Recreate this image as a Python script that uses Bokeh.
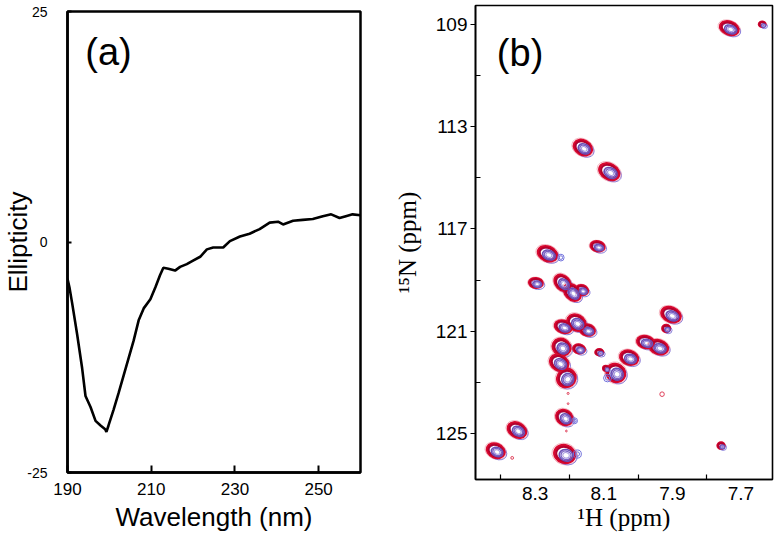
from bokeh.plotting import figure
from bokeh.models import Range1d, FixedTicker, Label
from bokeh.layouts import row, column
from bokeh.embed import file_html
from bokeh.resources import INLINE

# ---------------- Panel (a): CD spectrum ----------------
wavelength = [190.0, 190.5, 191.1, 192.3, 193.5, 194.3, 195.5, 196.7, 197.9, 199.0,
              199.3, 199.8, 201.0, 202.2, 203.4, 204.6, 205.8, 207.0, 208.2, 209.8,
              211.0, 212.1, 212.9, 214.1, 215.7, 216.9, 218.5, 220.1, 221.7, 223.3,
              224.8, 227.2, 228.8, 231.2, 233.5, 235.9, 238.3, 240.3, 241.5, 243.9,
              246.2, 248.6, 251.0, 253.0, 255.0, 256.5, 258.1, 260.0]
ellipticity = [-4.0, -5.0, -6.6, -10.0, -13.7, -16.7, -17.9, -19.4, -19.9, -20.3,
               -20.6, -19.9, -18.2, -16.4, -14.5, -12.6, -10.7, -8.5, -7.2, -6.2,
               -4.9, -3.6, -2.8, -2.9, -3.1, -2.7, -2.4, -2.0, -1.6, -0.8,
               -0.6, -0.6, 0.1, 0.6, 0.9, 1.4, 2.1, 2.2, 1.9, 2.3,
               2.4, 2.5, 2.8, 3.0, 2.6, 2.8, 3.0, 2.9]
cd_xticks = [190, 210, 230, 250]
cd_yticks = [-25, 0, 25]

# ---------------- Panel (b): 1H-15N HSQC peaks ----------------
peak_h = [7.734, 7.638, 8.161, 8.084, 8.118, 8.264, 8.298, 8.220, 8.192, 8.164,
          8.218, 8.180, 8.148, 7.904, 7.918, 7.978, 7.940, 8.223, 8.172, 8.113,
          8.026, 8.230, 8.209, 8.065, 8.094, 8.215, 8.353, 8.415, 8.214, 7.758]
peak_n = [109.15, 109.00, 113.82, 114.76, 117.68, 117.97, 119.11, 119.11, 119.48, 119.39,
          120.82, 120.66, 120.95, 120.35, 120.89, 121.42, 121.62, 121.62, 121.69, 121.82,
          122.03, 122.23, 122.83, 122.63, 122.45, 124.37, 124.86, 125.67, 125.80, 125.47]
peak_wh = [0.048, 0.016, 0.048, 0.053, 0.035, 0.050, 0.034, 0.046, 0.048, 0.031,
           0.043, 0.048, 0.038, 0.050, 0.019, 0.043, 0.048, 0.046, 0.029, 0.019,
           0.046, 0.048, 0.044, 0.048, 0.013, 0.043, 0.048, 0.046, 0.053, 0.017]
peak_wn = [0.43, 0.17, 0.48, 0.51, 0.33, 0.48, 0.32, 0.46, 0.46, 0.32,
           0.40, 0.51, 0.37, 0.48, 0.23, 0.40, 0.46, 0.54, 0.29, 0.20,
           0.46, 0.51, 0.64, 0.59, 0.16, 0.48, 0.48, 0.46, 0.59, 0.20]
peak_tilt = [-0.35, 0.0, -0.5, -0.5, -0.2, -0.4, -0.1, -0.8, -0.8, -0.3,
             -0.3, -0.5, -0.2, -0.4, 0.0, -0.2, -0.3, -0.5, -0.2, 0.0,
             -0.3, -0.5, -0.9, -0.6, 0.0, -0.6, -0.5, -0.4, -0.3, 0.0]

blue_only_h = [8.225, 8.089, 8.185, 8.177]
blue_only_n = [118.12, 122.83, 124.50, 125.80]
blue_only_wh = [0.017, 0.021, 0.015, 0.021]
blue_only_wn = [0.24, 0.27, 0.21, 0.29]

red_only_h = [8.204, 8.204, 8.209, 8.367, 7.930]
red_only_n = [123.43, 123.83, 124.90, 125.95, 123.46]
red_only_wh = [0.006, 0.005, 0.005, 0.008, 0.013]
red_only_wn = [0.08, 0.07, 0.07, 0.11, 0.18]

nmr_xticks = [8.3, 8.1, 7.9, 7.7]
nmr_xminor = [8.4, 8.2, 8.0, 7.8]
nmr_yticks = [109, 113, 117, 121, 125]
nmr_yminor = [111, 115, 119, 123]

SANS = "Liberation Sans"
SERIF = "Liberation Serif"

# ---------- figure (a) ----------
pa = figure(width=390, height=543, x_range=Range1d(190, 260), y_range=Range1d(-25, 25),
            output_backend="svg", toolbar_location=None,
            min_border_left=67, min_border_right=30, min_border_top=11, min_border_bottom=71)
pa.line(wavelength, ellipticity, line_color="black", line_width=2.6)
pa.xgrid.visible = False
pa.ygrid.visible = False
pa.outline_line_color = "black"
pa.outline_line_width = 2.5
pa.outline_line_alpha = 1.0

pa.xaxis.ticker = FixedTicker(ticks=cd_xticks)
pa.yaxis.ticker = FixedTicker(ticks=cd_yticks)
pa.xaxis.major_label_overrides = {t: str(t) for t in cd_xticks}
pa.yaxis.major_label_overrides = {t: str(t) for t in cd_yticks}
for ax in (pa.xaxis[0], pa.yaxis[0]):
    ax.axis_line_color = "black"
    ax.axis_line_width = 2.5
    ax.major_tick_line_color = "black"
    ax.major_tick_line_width = 2
    ax.major_tick_out = 0
    ax.minor_tick_line_color = None
    ax.major_label_text_font = SANS
    ax.major_label_text_color = "black"
    ax.axis_label_text_font = SANS
    ax.axis_label_text_font_style = "normal"
    ax.axis_label_text_color = "black"
    ax.axis_label_text_font_size = "26px"
pa.xaxis.major_tick_in = 7
pa.yaxis.major_tick_in = 4
pa.xaxis.major_label_text_font_size = "17px"
pa.yaxis.major_label_text_font_size = "14px"
pa.xaxis.major_label_standoff = 10
pa.yaxis.major_label_standoff = 20
pa.xaxis.axis_label = "Wavelength (nm)"
pa.yaxis.axis_label = "Ellipticity"
pa.xaxis.axis_label_standoff = 4
pa.yaxis.axis_label_standoff = -9
pa.add_layout(Label(x=199.8, y=20.6, text="(a)", text_font=SANS, text_font_size="38px",
                    text_align="center", text_baseline="middle", text_color="black"))

# ---------- figure (b) ----------
pb = figure(width=385, height=543, x_range=Range1d(8.474, 7.608), y_range=Range1d(126.795, 108.265),
            output_backend="svg", toolbar_location=None,
            min_border_left=82, min_border_right=3, min_border_top=5, min_border_bottom=64)
pb.xgrid.visible = False
pb.ygrid.visible = False
pb.outline_line_color = "black"
pb.outline_line_width = 1.6

def scaled(vals, s):
    return [v * s for v in vals]

def shifted(vals, d):
    return [v + d for v in vals]

# contour levels: (scale, colour, line width, dH, dN)
levels = [
    (1.42, "#f5b5c0", 1.0, 0.0, 0.0),
    (1.18, "#8c82dc", 1.0, -0.006, 0.07),
    (1.15, "#d8082f", 2.6, 0.0, 0.0),
    (0.95, "#b5002c", 2.0, 0.0, 0.0),
    (0.76, "#6b4fb5", 1.6, -0.004, 0.05),
    (0.56, "#7a62c4", 1.4, -0.004, 0.05),
    (0.36, "#a99be0", 1.1, -0.004, 0.05),
]
for s, col, lw, dh, dn in levels:
    pb.ellipse(x=shifted(peak_h, dh), y=shifted(peak_n, dn),
               width=scaled(peak_wh, s), height=scaled(peak_wn, s), angle=peak_tilt,
               fill_color=None, line_color=col, line_width=lw)

for s, lw in ((1.1, 1.0), (0.6, 1.0)):
    pb.ellipse(x=blue_only_h, y=blue_only_n, width=scaled(blue_only_wh, s),
               height=scaled(blue_only_wn, s), angle=0.0,
               fill_color=None, line_color="#7272dc", line_width=lw)

pb.ellipse(x=red_only_h, y=red_only_n, width=red_only_wh, height=red_only_wn, angle=0.0,
           fill_color=None, line_color="#e0405a", line_width=1.0)

pb.xaxis.ticker = FixedTicker(ticks=nmr_xticks, minor_ticks=nmr_xminor)
pb.yaxis.ticker = FixedTicker(ticks=nmr_yticks, minor_ticks=nmr_yminor)
pb.xaxis.major_label_overrides = {t: str(t) for t in nmr_xticks}
pb.yaxis.major_label_overrides = {t: str(t) for t in nmr_yticks}
for ax in (pb.xaxis[0], pb.yaxis[0]):
    ax.axis_line_color = "black"
    ax.axis_line_width = 1.6
    ax.major_tick_line_color = "black"
    ax.major_tick_line_width = 1.2
    ax.minor_tick_line_color = "black"
    ax.minor_tick_line_width = 1.2
    ax.minor_tick_in = 5
    ax.minor_tick_out = 0
    ax.major_label_text_font = SANS
    ax.major_label_text_font_size = "19px"
    ax.major_label_text_color = "black"
    ax.axis_label_text_font = SERIF
    ax.axis_label_text_font_style = "normal"
    ax.axis_label_text_font_size = "25px"
    ax.axis_label_text_color = "black"
pb.xaxis.major_tick_in = 0
pb.xaxis.major_tick_out = 0
pb.yaxis.major_tick_in = 0
pb.yaxis.major_tick_out = 5
pb.xaxis.major_label_standoff = 7
pb.yaxis.major_label_standoff = 3
pb.xaxis.axis_label = "\u00b9H (ppm)"
pb.yaxis.axis_label = "\u00b9\u2075N (ppm)"
pb.xaxis.axis_label_standoff = 1
pb.yaxis.axis_label_standoff = 12
pb.add_layout(Label(x=8.344, y=110.14, text="(b)", text_font=SANS, text_font_size="38px",
                    text_align="center", text_baseline="middle", text_color="black"))

layout = row(column(pa), column(pb))
open("out.html", "w").write(file_html(layout, INLINE))
